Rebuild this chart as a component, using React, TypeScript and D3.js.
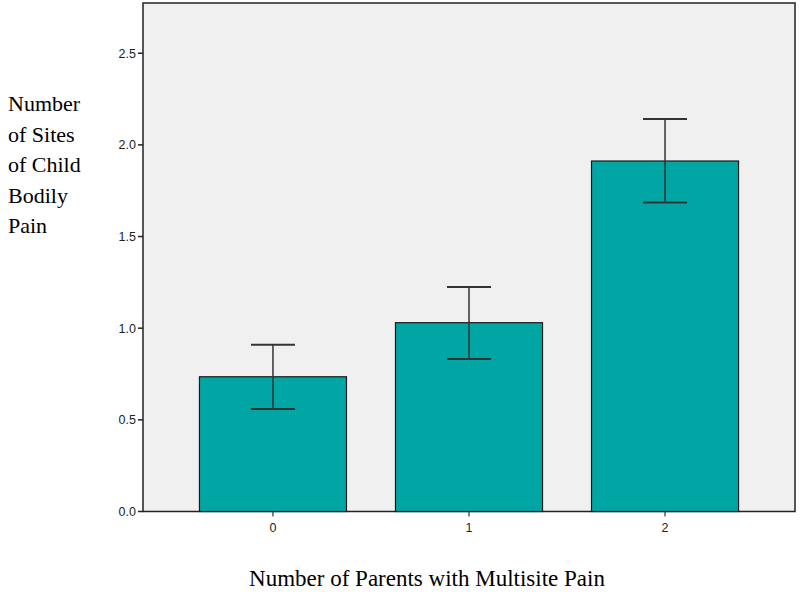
import React from "react";
import * as d3 from "d3";

const categories = ["0", "1", "2"];
const means = [0.735, 1.03, 1.912];
const lower = [0.559, 0.832, 1.685];
const upper = [0.91, 1.225, 2.141];
const yTicks = [0, 0.5, 1.0, 1.5, 2.0, 2.5];
const yTitle = ["Number", "of Sites", "of Child", "Bodily", "Pain"];
const xTitle = "Number of Parents with Multisite Pain";

export default function App() {
  const W = 800, H = 592;
  const left = 143, right = 795, top = 3, bottom = 511.5;
  const y = d3.scaleLinear().domain([0, 2.774]).range([bottom, top]);
  const x = d3.scaleBand<string>().domain(categories).range([left, right]).paddingInner(0.25).paddingOuter(0.288);
  const bw = x.bandwidth();
  const cap = 22;
  return (
    <svg width={W} height={H} style={{ position: "absolute", left: 0, top: 0 }}>
      <rect x={0} y={0} width={W} height={H} fill="#fff" />
      <rect x={left} y={top} width={right - left} height={bottom - top} fill="#f0f0f0" stroke="#222" strokeWidth={1.5} />
      {categories.map((c, i) => (
        <g key={c}>
          <rect x={x(c)!} y={y(means[i])} width={bw} height={y(0) - y(means[i])} fill="#00a6a3" stroke="#1a1a1a" strokeWidth={1.2} />
          <line x1={x(c)! + bw / 2} x2={x(c)! + bw / 2} y1={y(upper[i])} y2={y(lower[i])} stroke="#333" strokeWidth={1.5} />
          <line x1={x(c)! + bw / 2 - cap} x2={x(c)! + bw / 2 + cap} y1={y(upper[i])} y2={y(upper[i])} stroke="#333" strokeWidth={2} />
          <line x1={x(c)! + bw / 2 - cap} x2={x(c)! + bw / 2 + cap} y1={y(lower[i])} y2={y(lower[i])} stroke="#333" strokeWidth={2} />
          <line x1={x(c)! + bw / 2} x2={x(c)! + bw / 2} y1={bottom} y2={bottom + 5} stroke="#333" strokeWidth={1.2} />
          <text x={x(c)! + bw / 2} y={bottom + 20} textAnchor="middle" fontFamily="Liberation Sans, Arial, sans-serif" fontSize={12.5} fill="#222">{c}</text>
        </g>
      ))}
      {yTicks.map((t) => (
        <g key={t}>
          <line x1={left - 5} x2={left} y1={y(t)} y2={y(t)} stroke="#222" strokeWidth={1.5} />
          <text x={left - 7} y={y(t) + 4.5} textAnchor="end" fontFamily="Liberation Sans, Arial, sans-serif" fontSize={12.5} fill="#222">{t.toFixed(1)}</text>
        </g>
      ))}
      <text fontFamily="Liberation Serif, Times New Roman, serif" fontSize={22} fill="#000">
        {yTitle.map((l, i) => (
          <tspan key={i} x={8} y={111 + i * 30.5}>{l}</tspan>
        ))}
      </text>
      <text x={427} y={586} textAnchor="middle" fontFamily="Liberation Serif, Times New Roman, serif" fontSize={23} fill="#000">{xTitle}</text>
    </svg>
  );
}
